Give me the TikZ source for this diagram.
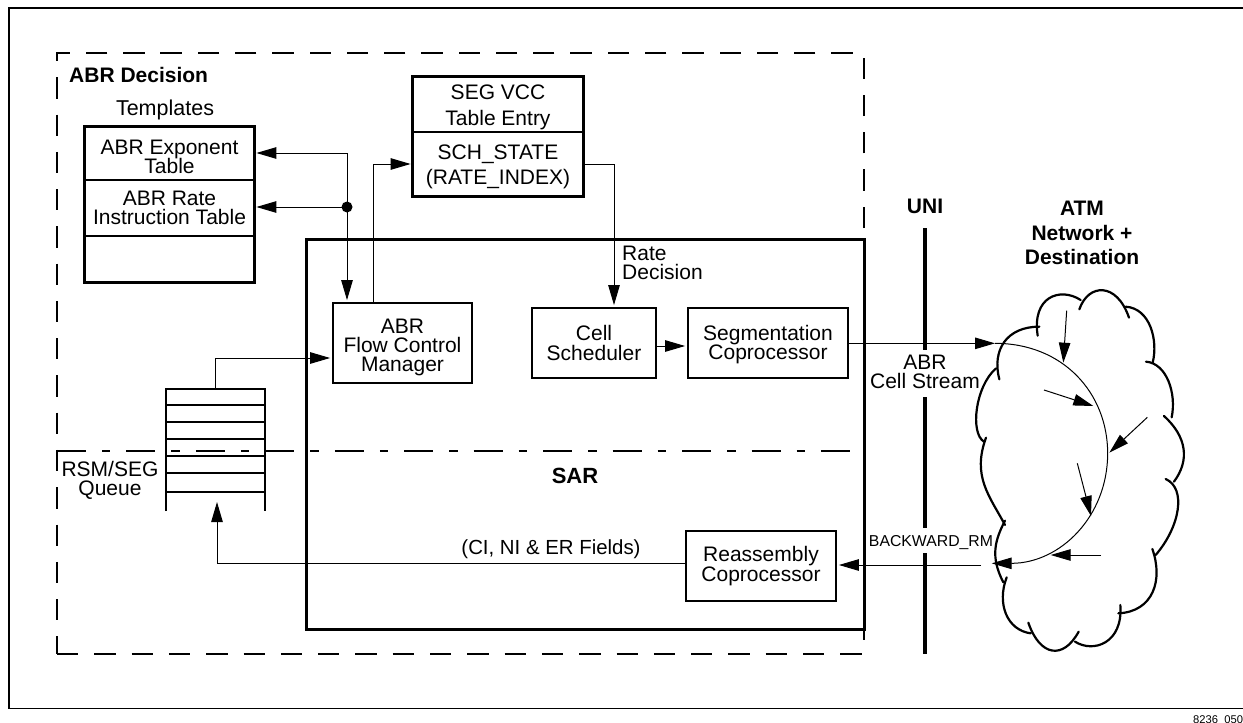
\documentclass[tikz,border=0pt]{standalone}
\usepackage{fontspec}
\setmainfont{Liberation Sans}
\usetikzlibrary{arrows.meta}
\newcommand{\dropby}[1]{\rule{0pt}{\dimexpr15pt+2\dimexpr#1pt\relax\relax}}
\newcommand{\tightfont}{\fontsize{21}{19.2}\selectfont\lineskiplimit=-20pt\relax}
\tikzset{
  txt/.style={font=\tightfont,align=center,inner sep=0pt},
  boldtxt/.style={font=\fontsize{21}{24.5}\selectfont\bfseries,align=center,inner sep=0pt},
  procbox/.style={draw,line width=2.8pt,inner sep=0pt,font=\tightfont,align=center},
  tabrow/.style={draw,line width=1.8pt,inner sep=0pt,font=\tightfont,align=center},
  looserow/.style={tabrow,font=\fontsize{21}{25.5}\selectfont},
  outline/.style={line width=2.8pt},
  conn/.style={line width=1pt,-{Triangle[length=20pt,width=11.5pt]},shorten >=1.5pt},
  cloudarc/.style={line width=2.2pt,line cap=round},
  inner/.style={line width=1pt,-{Triangle[length=20pt,width=11.5pt]}},
  qline/.style={line width=1.6pt},
}
\begin{document}
\begin{tikzpicture}[x=1pt,y=-1pt]
\useasboundingbox (0,0) rectangle (1243,723);
% frame (open on the right)
\draw[line width=1.3pt] (1243,8) -- (9,8) -- (9,708.5) -- (1243,708.5);
% ABR Decision boundary
\draw[line width=2pt,dash pattern=on 21.3pt off 15.97pt]
  (864,228) -- (864,53) -- (57,53) -- (57,654);
\draw[line width=2pt,dash pattern=on 21.3pt off 16pt] (57,654) -- (862,654);
% SAR box
\draw[line width=3pt] (306,239) rectangle (864,629.5);
\draw[line width=2pt] (864,629.5) -- (864,639.5);
% SAR boundary
\draw[line width=2.4pt,dash pattern=on 29pt off 16pt on 8.45pt off 16pt] (57,451) -- (850,451);
% UNI line
\draw[line width=3.8pt] (925,228) -- (925,350);
\draw[line width=3.8pt] (925,397) -- (925,528);
\draw[line width=3.8pt] (925,553) -- (925,653.5);
% labels
\node[boldtxt,anchor=west] (abrdec) at (69,75) {ABR Decision};
\node[txt,font=\fontsize{21.5}{19}\selectfont] (templates) at (165,110) {Templates};
\node[boldtxt] (uni) at (925,206) {UNI};
\node[boldtxt] (atm) at (1082,233) {ATM\\Network +\\Destination};
\node[boldtxt,font=\fontsize{22}{24}\selectfont\bfseries] (sar) at (575,476) {SAR};
\node[txt,anchor=west,align=left] (rate) at (622,262.5) {Rate\\Decision};
\node[txt] (stream) at (925,371.5) {ABR\\Cell Stream};
\node[inner sep=0pt,font=\fontsize{15.8}{19}\selectfont] (bwd) at (931,543) {BACKWARD\_RM};
\node[txt,font=\fontsize{20.4}{19}\selectfont] (fields) at (551,549) {(CI, NI \& ER Fields)};
\node[txt] (rsm) at (110,480.5) {RSM/SEG\\Queue};
\node[inner sep=0pt,anchor=base west,font=\fontsize{11.2}{13}\selectfont] (fig) at (1193,723) {8236\_050};
% templates table
\node[tabrow,minimum width=169pt,minimum height=53pt] (texp) at (169.5,153.5) {\dropby{3}ABR Exponent\\Table};
\node[tabrow,minimum width=169pt,minimum height=56pt] (trate) at (169.5,208) {ABR Rate\\Instruction Table};
\node[tabrow,minimum width=169pt,minimum height=46pt] (tblank) at (169.5,259) {};
\draw[outline] (texp.north west) rectangle (tblank.south east);
% SEG VCC table
\node[looserow,minimum width=170pt,minimum height=55pt] (vcc) at (498,104.5) {\dropby{2.5}SEG VCC\\Table Entry};
\node[looserow,minimum width=170pt,minimum height=64pt] (sch) at (498,164) {\dropby{2.5}SCH\_STATE\\(RATE\_INDEX)};
\draw[outline] (vcc.north west) rectangle (sch.south east);
% process boxes
\node[procbox,minimum width=139pt,minimum height=80pt] (fcm) at (402.5,343) {\dropby{4}ABR\\Flow Control\\Manager};
\node[procbox,minimum width=124pt,minimum height=70pt] (cell) at (594,343) {Cell\\Scheduler};
\node[procbox,minimum width=160pt,minimum height=70pt] (seg) at (768,343) {\dropby{2}Segmentation\\Coprocessor};
\node[procbox,minimum width=150pt,minimum height=70pt] (reasm) at (761,566) {Reassembly\\Coprocessor};
% queue
\node[minimum width=99pt,minimum height=122pt,inner sep=0pt,outer sep=0pt] (queue) at (215.5,450) {};
\draw[outline] (queue.south west) -- (queue.north west) -- (queue.north east) -- (queue.south east);
\foreach \yy in {405,422,439,456,473,492}
  \draw[qline] (queue.west |- 0,\yy) -- (queue.east |- 0,\yy);
% junction
\node[circle,fill=black,inner sep=0pt,minimum size=11pt] (jn) at (347,207) {};
% connectors
\draw[conn] (jn.center) |- (texp.east |- 0,153);
\draw[conn] (jn.center) -- (trate.east |- jn.center);
\draw[conn] (jn.center) -- (fcm.north -| jn.center);
\draw[conn] (fcm.north -| 373,0) |- (sch.west);
\draw[conn] (sch.east) -| (cell.north -| 614,0);
\draw[conn] (queue.north) |- (fcm.west |- 0,358);
\draw[conn] (cell.east |- 0,346) -- (seg.west |- 0,346);
\coordinate (qin) at (217,502);
\draw[conn,shorten >=0pt] (reasm.west |- 0,563) -| (qin);
% cloud
\begin{scope}[shift={(960,180)},x=0.33333pt,y=-0.33333pt]
\coordinate (arcstart) at (105,490);
\coordinate (arcend) at (95,1150);
\draw[cloudarc] (118,598) .. controls (95,510) and (140,440) .. (238,440);
\draw[cloudarc] (233,467) .. controls (215,350) and (300,320) .. (362,360);
\draw[cloudarc] (358,388) .. controls (385,310) and (470,305) .. (507,413);
\draw[cloudarc] (497,380) .. controls (570,385) and (595,480) .. (578,548);
\draw[cloudarc] (558,545) .. controls (620,550) and (650,640) .. (635,712);
\draw[cloudarc] (612,708) .. controls (680,770) and (690,840) .. (642,905);
\draw[cloudarc] (617,897) .. controls (680,925) and (660,1040) .. (587,1125);
\draw[cloudarc] (577,1107) .. controls (610,1200) and (580,1295) .. (475,1300);
\draw[cloudarc] (481,1275) .. controls (490,1390) and (400,1420) .. (345,1385);
\draw[cloudarc] (356,1355) .. controls (310,1440) and (240,1430) .. (205,1328);
\draw[cloudarc] (212,1360) .. controls (140,1350) and (110,1270) .. (140,1192);
\draw[cloudarc] (130,1207) .. controls (90,1130) and (105,1080) .. (135,1022);
\draw[cloudarc] (135,1035) .. controls (90,950) and (35,890) .. (78,773);
\draw[cloudarc] (72,785) .. controls (30,760) and (45,620) .. (108,565);
% inner arc and arrows
\draw[inner] (arcstart) .. controls (310,490) and (443,640) .. (443,820) .. controls (443,1010) and (300,1150) .. (arcend);
\coordinate (a1) at (320,392); \coordinate (b1) at (310,548);
\coordinate (a2) at (252,630); \coordinate (b2) at (400,678);
\coordinate (a3) at (562,712); \coordinate (b3) at (448,818);
\coordinate (a4) at (352,850); \coordinate (b4) at (393,1008);
\coordinate (a5) at (423,1125); \coordinate (b5) at (272,1125);
\draw[inner] (a1) -- (b1);
\draw[inner] (a2) -- (b2);
\draw[inner] (a3) -- (b3);
\draw[inner] (a4) -- (b4);
\draw[inner] (a5) -- (b5);
\end{scope}
\draw[conn,shorten >=0pt] (seg.east |- arcstart) -- (arcstart);
\coordinate (bwdfrom) at (981,565);
\draw[conn] (bwdfrom) -- (reasm.east |- bwdfrom);
\end{tikzpicture}
\end{document}
